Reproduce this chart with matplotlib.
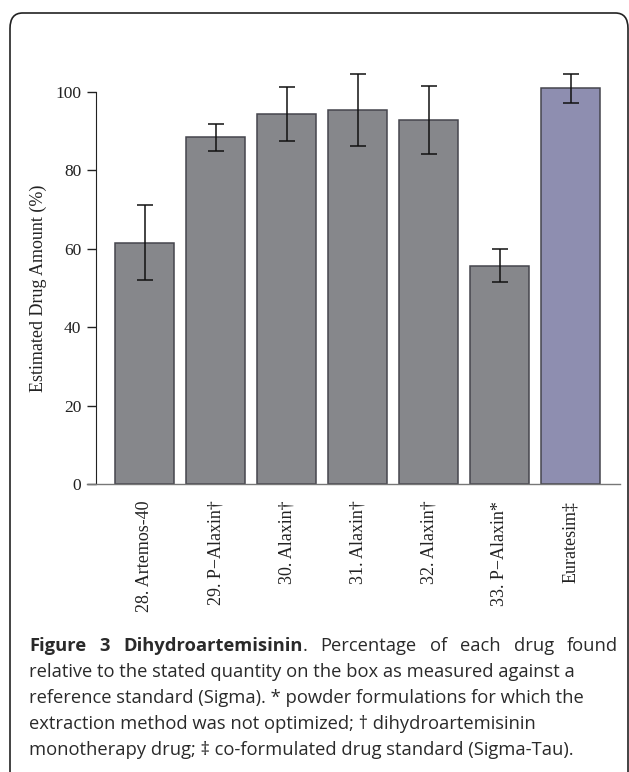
import numpy as np
import matplotlib
matplotlib.use("Agg")
import matplotlib.pyplot as plt
from matplotlib.patches import FancyBboxPatch

# data
labels = ["28. Artemos-40", "29. P\u2212Alaxin\u2020", "30. Alaxin\u2020", "31. Alaxin\u2020",
          "32. Alaxin\u2020", "33. P\u2212Alaxin*", "Euratesim\u2021"]
values = [61.5, 88.4, 94.3, 95.3, 92.8, 55.7, 100.9]
err_low = [52.0, 85.0, 87.5, 86.2, 84.2, 51.5, 97.2]
err_high = [71.1, 91.8, 101.2, 104.5, 101.4, 59.9, 104.6]
yticks = [0, 20, 40, 60, 80, 100]

W, H = 629, 772
fig = plt.figure(figsize=(W / 100, H / 100), dpi=100)

def px(x0, y0, x1, y1):
    # pixel box (top-left origin) -> figure fraction rect
    return [x0 / W, 1 - y1 / H, (x1 - x0) / W, (y1 - y0) / H]

# rounded frame around figure + caption
frame = FancyBboxPatch((10 / W, -0.02), 618 / W, 1 - 13 / H + 0.02,
                       boxstyle="round,pad=0,rounding_size=0.02",
                       transform=fig.transFigure, fill=False,
                       edgecolor="#222222", linewidth=1.2)
fig.patches.append(frame)

serif = ["Liberation Serif", "DejaVu Serif"]
ink = "#222222"
ax = fig.add_axes(px(87, 60.6, 620, 484))

x = np.arange(len(values))
colors = ["#86878b"] * 6 + ["#8e8eb0"]
ax.bar(x, values, width=0.831, color=colors, edgecolor="#45454d", linewidth=1.1, zorder=2)
lo = np.array(values) - np.array(err_low)
hi = np.array(err_high) - np.array(values)
ax.errorbar(x, values, yerr=[lo, hi], fmt="none", ecolor="#111111",
            elinewidth=1.1, capsize=6, capthick=1.1, zorder=3)

ax.set_xlim(-0.810, 6.697)
ax.set_ylim(0, 108)

for s in ["top", "right"]:
    ax.spines[s].set_visible(False)
ax.spines["left"].set_position(("axes", 9 / 533))
ax.spines["left"].set_bounds(0, 100)
ax.spines["left"].set_color(ink)
ax.spines["bottom"].set_color("#777777")
ax.spines["bottom"].set_linewidth(1.0)

ax.set_yticks(yticks)
ax.set_yticklabels([str(t) for t in yticks], family=serif, fontsize=12.5, color=ink)
ax.tick_params(axis="y", length=6.5, width=1.0, pad=4, colors=ink)

ax.set_xticks(x)
ax.set_xticklabels(labels, rotation=90, family=serif, fontsize=13,
                   va="top", ha="center", color=ink)
ax.tick_params(axis="x", length=0, pad=12)

fig.text(38 / W, 1 - 288 / H, "Estimated Drug Amount (%)", rotation=90,
         family=serif, fontsize=13, ha="center", va="center", color=ink)

# caption
cap_font = ["Open Sans", "DejaVu Sans"]
cap_size = 13.2
cap_col = "#2a2a2a"
line_y = [646, 672, 698, 724, 750]
left, right = 29, 618
fig.canvas.draw()
renderer = fig.canvas.get_renderer()

# first line is justified: (word, bold) pieces, each group separated by a space
groups = [[("Figure", True)], [("3", True)], [("Dihydroartemisinin", True), (".", False)],
          [("Percentage", False)], [("of", False)], [("each", False)],
          [("drug", False)], [("found", False)]]

def width_of(txt, bold):
    t = fig.text(0, 0, txt, family=cap_font, fontsize=cap_size,
                 weight="bold" if bold else "normal")
    w = t.get_window_extent(renderer).width
    t.remove()
    return w

widths = [[width_of(w, b) for w, b in g] for g in groups]
total = sum(sum(ws) for ws in widths)
gap = (right - left - total) / (len(groups) - 1)
xc = left
for g, ws in zip(groups, widths):
    for (w, b), wd in zip(g, ws):
        fig.text(xc / W, 1 - line_y[0] / H, w, family=cap_font, fontsize=cap_size,
                 weight="bold" if b else "normal", ha="left", va="center", color=cap_col)
        xc += wd
    xc += gap

rest = ["relative to the stated quantity on the box as measured against a",
        "reference standard (Sigma). * powder formulations for which the",
        "extraction method was not optimized; \u2020 dihydroartemisinin",
        "monotherapy drug; \u2021 co-formulated drug standard (Sigma-Tau)."]
for yy, line in zip(line_y[1:], rest):
    fig.text(left / W, 1 - yy / H, line, family=cap_font, fontsize=cap_size,
             ha="left", va="center", color=cap_col)

fig.savefig("out.png", dpi=100)
